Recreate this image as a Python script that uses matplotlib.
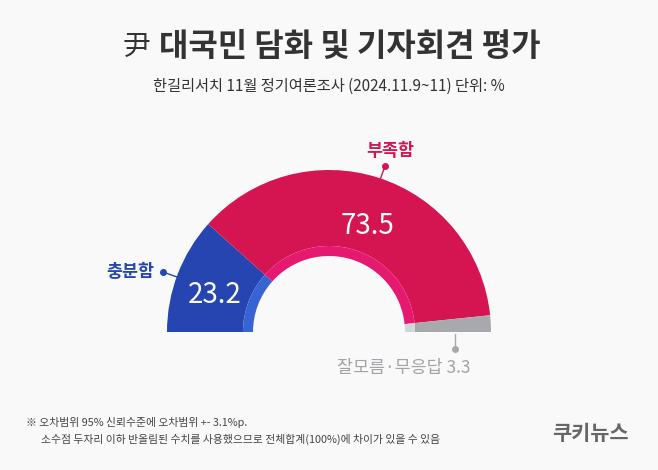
import matplotlib.pyplot as plt

plt.rcParams['font.family'] = ['Noto Sans CJK KR', 'DejaVu Sans']

categories = ['충분함', '부족함', '잘모름·무응답']
values = [23.2, 73.5, 3.3]
outer_colors = ['#2645b0', '#d41551', '#a8a9ad']
inner_colors = ['#3863d2', '#e5196f', '#d4d4d6']

W, H = 658, 470
CX, CY = 329, H - 332	# center of the half donut (data units = pixels)

fig = plt.figure(figsize=(W / 100, H / 100), dpi=100)
fig.patch.set_facecolor('#f9f9fa')
ax = fig.add_axes([0, 0, 1, 1])
ax.set_facecolor('#f9f9fa')

# pie with an invisible second half so the visible part is a half circle
vals = values + [sum(values)]
ax.pie(vals, colors=outer_colors + ['none'], startangle=180, counterclock=False,
	center=(CX, CY), radius=162, wedgeprops=dict(width=76, linewidth=0))
ax.pie(vals, colors=inner_colors + ['none'], startangle=180, counterclock=False,
	center=(CX, CY), radius=86, wedgeprops=dict(width=10, linewidth=0))

ax.set_xlim(0, W)
ax.set_ylim(0, H)
ax.axis('off')

# title
ax.text(136, H - 47, '尹', ha='center', va='center', fontsize=20, fontweight='light', color='#333333')
ax.text(350, H - 47, '대국민 담화 및 기자회견 평가', ha='center', va='center', fontsize=23,
	fontweight='bold', color='#333333')
ax.text(329, H - 86, '한길리서치 11월 정기여론조사 (2024.11.9~11) 단위: %', ha='center', va='center',
	fontsize=11, fontweight='medium', color='#333333')

# values inside wedges
ax.text(215, H - 295, f'{values[0]}', ha='center', va='center', fontsize=20, color='white')
ax.text(368, H - 226, f'{values[1]}', ha='center', va='center', fontsize=20, color='white')

# category labels with leader lines
ax.plot([163, 177], [H - 272, H - 277], color='#2645b0', lw=1)
ax.plot([163], [H - 272], 'o', color='#2645b0', ms=4)
ax.text(130, H - 272, categories[0], ha='center', va='center', fontsize=12.5,
	fontweight='bold', color='#2645b0')

ax.plot([385, 380], [H - 166, H - 180], color='#d41551', lw=1)
ax.plot([385], [H - 166], 'o', color='#d41551', ms=4)
ax.text(390, H - 151, categories[1], ha='center', va='center', fontsize=12.5,
	fontweight='bold', color='#d41551')

ax.plot([455, 455], [H - 334, H - 349], color='#a8a9ad', lw=1)
ax.plot([455], [H - 349], 'o', color='#a8a9ad', ms=4)
ax.text(404, H - 368, f'{categories[2]} {values[2]}', ha='center', va='center', fontsize=12.5,
	color='#a3a4a8')

# footnote
ax.text(26, H - 423, '※ 오차범위 95% 신뢰수준에 오차범위 +- 3.1%p.', ha='left', va='center',
	fontsize=7.8, color='#444444')
ax.text(41, H - 439, '소수점 두자리 이하 반올림된 수치를 사용했으므로 전체합계(100%)에 차이가 있을 수 있음',
	ha='left', va='center', fontsize=7.8, color='#444444')
ax.text(590, H - 433, '쿠키뉴스', ha='center', va='center', fontsize=15, fontweight='black',
	color='#666666')

fig.savefig('out.png', dpi=100, facecolor=fig.get_facecolor())
